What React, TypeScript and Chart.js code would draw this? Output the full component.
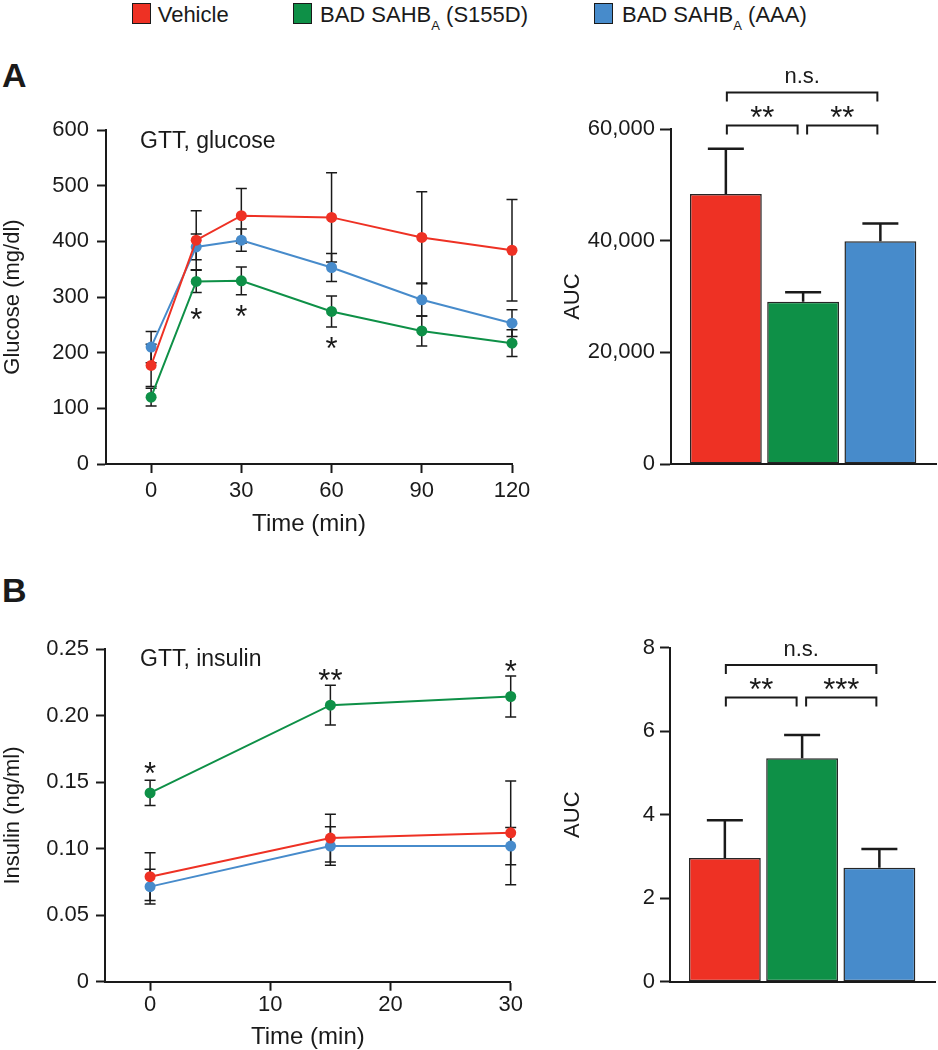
import React, { useEffect, useRef } from 'react';
import { Chart, registerables } from 'chart.js';

Chart.register(...registerables);

// ---------------- data ----------------
const seriesNames = ['Vehicle', 'BAD SAHBA (S155D)', 'BAD SAHBA (AAA)'];

const glucoseTimes = [0, 15, 30, 60, 90, 120];
const glucoseVehicle = [177, 402, 446, 443, 407, 384];
const glucoseVehicleErr = [38, 53, 49, 80, 82, 91];
const glucoseS155D = [120, 328, 329, 274, 239, 217];
const glucoseS155DErr = [16, 20, 25, 28, 27, 24];
const glucoseAAA = [210, 390, 402, 353, 295, 253];
const glucoseAAAErr = [28, 23, 20, 25, 29, 24];
const glucoseXTicks = [0, 30, 60, 90, 120];
const glucoseStars = [
  { x: 15, y: 269, text: '*' },
  { x: 30, y: 275, text: '*' },
  { x: 60, y: 217, text: '*' },
];

const glucoseAUC = [48400, 29100, 39950];
const glucoseAUCErr = [8100, 1700, 3170];
const glucoseBrackets = [
  { from: 0, to: 1, level: 60700, label: '**' },
  { from: 1, to: 2, level: 60700, label: '**' },
  { from: 0, to: 2, level: 66600, label: 'n.s.' },
];

const insulinTimes = [0, 15, 30];
const insulinVehicle = [0.079, 0.108, 0.112];
const insulinVehicleErr = [0.018, 0.018, 0.039];
const insulinS155D = [0.142, 0.208, 0.2145];
const insulinS155DErr = [0.0095, 0.015, 0.0155];
const insulinAAA = [0.0715, 0.102, 0.102];
const insulinAAAErr = [0.013, 0.0145, 0.014];
const insulinXTicks = [0, 10, 20, 30];
const insulinStars = [
  { x: 0, y: 0.1607, text: '*' },
  { x: 15, y: 0.2308, text: '**' },
  { x: 30, y: 0.2373, text: '*' },
];

const insulinAUC = [2.96, 5.35, 2.73];
const insulinAUCErr = [0.91, 0.56, 0.45];
const insulinBrackets = [
  { from: 0, to: 1, level: 6.81, label: '**' },
  { from: 1, to: 2, level: 6.81, label: '***' },
  { from: 0, to: 2, level: 7.585, label: 'n.s.' },
];

// ---------------- styles ----------------
const FONT = "'Liberation Sans', Arial, Helvetica, sans-serif";
const INK = '#1a1a1a';
const RED = '#EE3124';
const GREEN = '#0E9047';
const BLUE = '#478BCB';
const COLORS = [RED, GREEN, BLUE];
const STAR_FONT = `31px ${FONT}`;

Chart.defaults.font.family = FONT;
Chart.defaults.color = INK;

function drawInkCentered(ctx: CanvasRenderingContext2D, text: string, cx: number, cy: number) {
  ctx.textAlign = 'left';
  ctx.textBaseline = 'alphabetic';
  const m = ctx.measureText(text);
  const x = cx - (m.actualBoundingBoxRight - m.actualBoundingBoxLeft) / 2;
  const y = cy + (m.actualBoundingBoxAscent - m.actualBoundingBoxDescent) / 2;
  ctx.fillText(text, x, y);
}

function makeLinePlugin(errors: number[][], stars: { x: number; y: number; text: string }[]) {
  return {
    id: 'lineDecor',
    beforeDatasetsDraw(chart: any) {
      const { ctx, scales } = chart;
      const xs = scales.x, ys = scales.y;
      ctx.save();
      ctx.strokeStyle = INK;
      ctx.lineWidth = 1.5;
      chart.data.datasets.forEach((ds: any, di: number) => {
        ds.data.forEach((p: any, i: number) => {
          const e = errors[di][i];
          const px = xs.getPixelForValue(p.x);
          const t = ys.getPixelForValue(p.y + e);
          const b = ys.getPixelForValue(p.y - e);
          ctx.beginPath();
          ctx.moveTo(px, t); ctx.lineTo(px, b);
          ctx.moveTo(px - 5.5, t); ctx.lineTo(px + 5.5, t);
          ctx.moveTo(px - 5.5, b); ctx.lineTo(px + 5.5, b);
          ctx.stroke();
        });
      });
      ctx.restore();
    },
    afterDraw(chart: any) {
      const { ctx, scales } = chart;
      ctx.save();
      ctx.fillStyle = INK;
      ctx.font = STAR_FONT;
      stars.forEach((s) => drawInkCentered(ctx, s.text, scales.x.getPixelForValue(s.x), scales.y.getPixelForValue(s.y)));
      ctx.restore();
    },
  };
}

function makeBarPlugin(errors: number[], brackets: { from: number; to: number; level: number; label: string }[]) {
  const insetL = (i: number) => (i === 1 ? 4 : 1);
  const insetR = (i: number) => (i === 1 ? 5.5 : 3);
  return {
    id: 'barDecor',
    afterDatasetsDraw(chart: any) {
      const { ctx, scales } = chart;
      const ds = chart.data.datasets[0];
      ctx.save();
      ctx.strokeStyle = INK;
      ctx.lineWidth = 2.5;
      ds.data.forEach((p: any, i: number) => {
        const px = scales.x.getPixelForValue(p.x);
        const t = scales.y.getPixelForValue(p.y);
        const c = scales.y.getPixelForValue(p.y + errors[i]);
        ctx.beginPath();
        ctx.moveTo(px, t); ctx.lineTo(px, c);
        ctx.moveTo(px - 18, c); ctx.lineTo(px + 18, c);
        ctx.stroke();
      });
      ctx.restore();
    },
    afterDraw(chart: any) {
      const { ctx, scales } = chart;
      ctx.save();
      ctx.strokeStyle = INK;
      ctx.fillStyle = INK;
      ctx.lineWidth = 2;
      brackets.forEach((b) => {
        const x1 = scales.x.getPixelForValue(b.from) + insetL(b.from);
        const x2 = scales.x.getPixelForValue(b.to) - insetR(b.to);
        const yy = scales.y.getPixelForValue(b.level);
        ctx.beginPath();
        ctx.moveTo(x1, yy + 9);
        ctx.lineTo(x1, yy);
        ctx.lineTo(x2, yy);
        ctx.lineTo(x2, yy + 9);
        ctx.stroke();
        const isStar = b.label.indexOf('*') >= 0;
        ctx.font = isStar ? STAR_FONT : `22px ${FONT}`;
        drawInkCentered(ctx, b.label, (x1 + x2) / 2, yy - (isStar ? 13 : 15));
      });
      ctx.restore();
    },
  };
}

const tickFont = { family: FONT, size: 22 };
const titleFont = { family: FONT, size: 22 };
const xTitleFont = { family: FONT, size: 24 };

function lineDataset(times: number[], vals: number[], color: string, label: string) {
  return {
    label,
    data: times.map((t, i) => ({ x: t, y: vals[i] })),
    borderColor: color,
    backgroundColor: color,
    pointBackgroundColor: color,
    pointBorderWidth: 0,
    pointRadius: 5.5,
    pointHoverRadius: 5.5,
    borderWidth: 2,
    tension: 0,
    fill: false,
    clip: false as any,
  };
}

function yAxisBase(width: number, tickLen: number, title: string) {
  return {
    type: 'linear' as const,
    grid: { display: true, drawOnChartArea: false, drawTicks: true, tickLength: tickLen, tickWidth: 2, tickColor: INK },
    border: { display: true, color: INK, width: 2 },
    title: { display: true, text: title, font: titleFont, color: INK, padding: { top: 0, bottom: 0 } },
    afterFit: (s: any) => { s.width = width; },
  };
}

function glucoseLineConfig(): any {
  return {
    type: 'line',
    data: {
      datasets: [
        lineDataset(glucoseTimes, glucoseVehicle, RED, seriesNames[0]),
        lineDataset(glucoseTimes, glucoseS155D, GREEN, seriesNames[1]),
        lineDataset(glucoseTimes, glucoseAAA, BLUE, seriesNames[2]),
      ],
    },
    options: {
      responsive: false,
      maintainAspectRatio: false,
      animation: false,
      events: [],
      layout: { padding: { left: 0, top: 30, right: 28, bottom: 0 } },
      plugins: { legend: { display: false }, tooltip: { enabled: false } },
      scales: {
        x: {
          type: 'linear',
          min: -15,
          max: 120,
          afterBuildTicks: (s: any) => { s.ticks = glucoseXTicks.map((v) => ({ value: v })); },
          ticks: { font: tickFont, color: INK, padding: 5, autoSkip: false },
          grid: { display: true, drawOnChartArea: false, drawTicks: true, tickLength: 9, tickWidth: 2, tickColor: INK },
          border: { display: true, color: INK, width: 2 },
          title: { display: true, text: 'Time (min)', font: xTitleFont, color: INK, padding: { top: 0, bottom: 1 } },
          afterFit: (s: any) => { s.height = 76; },
        },
        y: { ...yAxisBase(106, 9, 'Glucose (mg/dl)'), min: 0, max: 600, ticks: { font: tickFont, color: INK, padding: 8, stepSize: 100 } },
      },
    },
    plugins: [makeLinePlugin([glucoseVehicleErr, glucoseS155DErr, glucoseAAAErr], glucoseStars)],
  };
}

function insulinLineConfig(): any {
  return {
    type: 'line',
    data: {
      datasets: [
        lineDataset(insulinTimes, insulinVehicle, RED, seriesNames[0]),
        lineDataset(insulinTimes, insulinS155D, GREEN, seriesNames[1]),
        lineDataset(insulinTimes, insulinAAA, BLUE, seriesNames[2]),
      ],
    },
    options: {
      responsive: false,
      maintainAspectRatio: false,
      animation: false,
      events: [],
      layout: { padding: { left: 0, top: 29.3, right: 29.3, bottom: 0 } },
      plugins: { legend: { display: false }, tooltip: { enabled: false } },
      scales: {
        x: {
          type: 'linear',
          min: -3.75,
          max: 30,
          afterBuildTicks: (s: any) => { s.ticks = insulinXTicks.map((v) => ({ value: v })); },
          ticks: { font: tickFont, color: INK, padding: 1, autoSkip: false },
          grid: { display: true, drawOnChartArea: false, drawTicks: true, tickLength: 9, tickWidth: 2, tickColor: INK },
          border: { display: true, color: INK, width: 2 },
          title: { display: true, text: 'Time (min)', font: xTitleFont, color: INK, padding: { top: 0, bottom: -2 } },
          afterFit: (s: any) => { s.height = 68.3; },
        },
        y: {
          ...yAxisBase(105, 9, 'Insulin (ng/ml)'),
          min: 0,
          max: 0.25,
          ticks: {
            font: tickFont, color: INK, padding: 7, stepSize: 0.05,
            callback: (v: number) => (Math.abs(v) < 1e-9 ? '0' : Number(v).toFixed(2)),
          },
        },
      },
    },
    plugins: [makeLinePlugin([insulinVehicleErr, insulinS155DErr, insulinAAAErr], insulinStars)],
  };
}

function barConfig(values: number[], errors: number[], brackets: any[], yMax: number, yStep: number, tickLen: number, yWidth: number, padTop: number, padRight: number, xHeight: number, fmt: (v: number) => string): any {
  return {
    type: 'bar',
    data: {
      datasets: [
        {
          label: 'AUC',
          data: values.map((v, i) => ({ x: i, y: v })),
          backgroundColor: COLORS,
          borderColor: '#262626',
          borderWidth: 1.5,
          borderSkipped: false,
          barPercentage: 0.93,
          categoryPercentage: 1,
        },
      ],
    },
    options: {
      responsive: false,
      maintainAspectRatio: false,
      animation: false,
      events: [],
      layout: { padding: { left: 0, top: padTop, right: padRight, bottom: 0 } },
      plugins: { legend: { display: false }, tooltip: { enabled: false } },
      scales: {
        x: {
          type: 'linear',
          offset: false,
          min: -0.71,
          max: 2.72,
          afterBuildTicks: (s: any) => { s.ticks = values.map((_, i) => ({ value: i })); },
          ticks: { display: false },
          grid: { display: false },
          border: { display: true, color: INK, width: 2 },
          afterFit: (s: any) => { s.height = xHeight; },
        },
        y: {
          ...yAxisBase(yWidth, tickLen, 'AUC'),
          min: 0,
          max: yMax,
          ticks: { font: tickFont, color: INK, padding: 5, stepSize: yStep, callback: (v: number) => fmt(v) },
        },
      },
    },
    plugins: [makeBarPlugin(errors, brackets)],
  };
}

function ChartBox({ left, top, width, height, make }: { left: number; top: number; width: number; height: number; make: () => any }) {
  const ref = useRef<HTMLCanvasElement>(null);
  useEffect(() => {
    const chart = new Chart(ref.current as HTMLCanvasElement, make());
    return () => chart.destroy();
  }, []);
  return (
    <div style={{ position: 'absolute', left, top, width, height }}>
      <canvas ref={ref} width={width} height={height} style={{ width, height, display: 'block' }} />
    </div>
  );
}

function TextAt({ x, baseline, size, bold, children }: { x: number; baseline: number; size: number; bold?: boolean; children: any }) {
  return (
    <div
      style={{
        position: 'absolute',
        left: x,
        top: baseline - 0.8465 * size,
        fontSize: size,
        lineHeight: `${size}px`,
        fontWeight: bold ? 'bold' : 'normal',
        whiteSpace: 'nowrap',
        color: INK,
      }}
    >
      {children}
    </div>
  );
}

const legendLayout = [
  { box: 132, text: 157.7 },
  { box: 293, text: 320 },
  { box: 594, text: 622 },
];

function LegendLabel({ name }: { name: string }) {
  const m = name.match(/^(BAD SAHB)A (.*)$/);
  if (!m) return <>{name}</>;
  return (
    <>
      {m[1]}
      <span style={{ fontSize: 13, position: 'relative', top: 8 }}>A</span> {m[2]}
    </>
  );
}

export default function App() {
  return (
    <div style={{ position: 'absolute', left: 0, top: 0, width: 938, height: 1050, background: '#fff', fontFamily: FONT, overflow: 'hidden' }}>
      {seriesNames.map((n, i) => (
        <React.Fragment key={n}>
          <div
            style={{
              position: 'absolute',
              left: legendLayout[i].box,
              top: 3,
              width: 19,
              height: 21,
              boxSizing: 'border-box',
              background: COLORS[i],
              border: `1.5px solid ${INK}`,
            }}
          />
          <TextAt x={legendLayout[i].text} baseline={23} size={22}>
            <LegendLabel name={n} />
          </TextAt>
        </React.Fragment>
      ))}
      <TextAt x={2} baseline={86.7} size={34} bold>A</TextAt>
      <TextAt x={2} baseline={602} size={34} bold>B</TextAt>
      <ChartBox left={0} top={100} width={540} height={440} make={glucoseLineConfig} />
      <ChartBox
        left={560}
        top={40}
        width={378}
        height={460}
        make={() => barConfig(glucoseAUC, glucoseAUCErr, glucoseBrackets, 60000, 20000, 11, 111, 89.3, 2, 36, (v) => Number(v).toLocaleString('en-US'))}
      />
      <ChartBox left={0} top={620} width={540} height={430} make={insulinLineConfig} />
      <ChartBox
        left={560}
        top={600}
        width={378}
        height={420}
        make={() => barConfig(insulinAUC, insulinAUCErr, insulinBrackets, 8, 2, 10, 110, 47.7, 3, 38.3, (v) => String(v))}
      />
      <TextAt x={140} baseline={148} size={23}>GTT, glucose</TextAt>
      <TextAt x={140} baseline={666} size={23}>GTT, insulin</TextAt>
    </div>
  );
}
